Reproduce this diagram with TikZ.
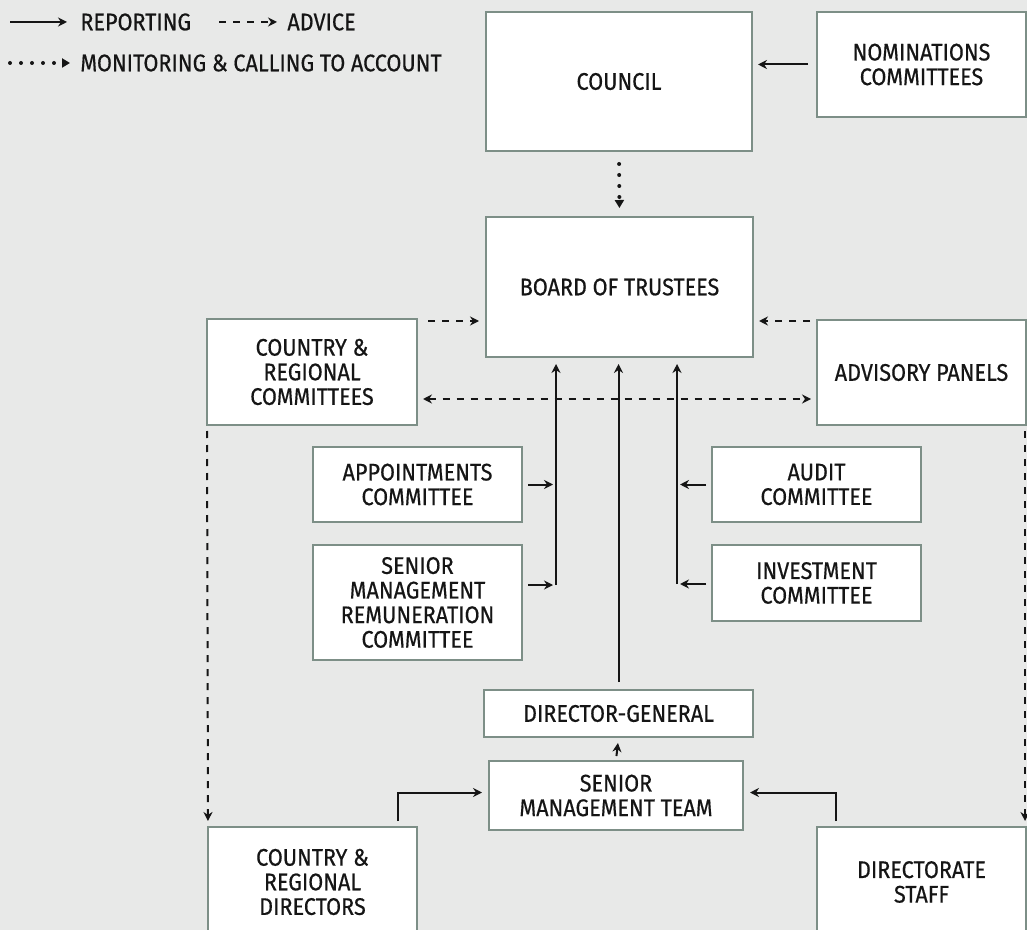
\documentclass[tikz,border=0pt]{standalone}
\usepackage{fontspec}
\setmainfont{Fira Sans}[FakeStretch=0.9, FakeBold=0.5]
\usetikzlibrary{arrows.meta}
\definecolor{bg}{HTML}{E8E9E8}
\definecolor{boxline}{HTML}{7D8F87}
\definecolor{ink}{HTML}{151515}

\begin{document}
\begin{tikzpicture}[
        x=0.5pt, y=-0.5pt,
        box/.style={draw=boxline, fill=white, line width=1pt, align=center, inner sep=0pt, text=ink,
            font=\fontsize{12}{12.3}\selectfont},
        legend/.style={anchor=west, inner sep=0pt, text=ink, font=\fontsize{12}{12.3}\selectfont},
        report/.style={-{Stealth[length=4.5pt,width=4.5pt]}, line width=1pt, ink},
        advice/.style={report, dash pattern=on 3.5pt off 3.5pt},
        twoway/.style={advice, {Stealth[length=4.5pt,width=4.5pt]}-{Stealth[length=4.5pt,width=4.5pt]}},
        monitor/.style={-{Triangle[length=4pt,width=4.5pt]}, line width=2pt, line cap=round, ink,
            dash pattern=on 0pt off 5.5pt}
    ]
        \fill[bg] (0,0) rectangle (1027,930);
        \useasboundingbox (0,0) rectangle (1027,930);

        % Legend
        \node[legend] (lreport) at (80,22) {REPORTING};
        \node[legend] (ladvice) at (287,22) {ADVICE};
        \node[legend] (lmonitor) at (80,63) {MONITORING \& CALLING TO ACCOUNT};
        \draw[report] ([xshift=-35pt]lreport.west) -- ([xshift=-6.5pt]lreport.west);
        \draw[advice] ([xshift=-34pt]ladvice.west) -- ([xshift=-5pt]ladvice.west);
        \draw[monitor] ([xshift=-35pt]lmonitor.west) -- ([xshift=-5pt]lmonitor.west);

        % Top
        \node[box, minimum width=133pt, minimum height=69.5pt] (council) at (619,81.5) {COUNCIL};
        \node[box, minimum width=104.5pt, minimum height=52.5pt] (nominations) at (921.5,64.5) {NOMINATIONS\\COMMITTEES};
        \node[box, minimum width=133.5pt, minimum height=70pt] (board) at (619.5,287) {BOARD OF TRUSTEES};

        % Side committees and panels
        \node[box, minimum width=105pt, minimum height=53pt] (regcom) at (312,372) {COUNTRY \&\\REGIONAL\\COMMITTEES};
        \node[box, minimum width=104.5pt, minimum height=52.5pt] (panels) at (921.5,372.5) {ADVISORY PANELS};

        % Board committees
        \node[box, minimum width=104.5pt, minimum height=37.5pt] (appoint) at (417.5,484.5) {APPOINTMENTS\\COMMITTEE};
        \node[box, minimum width=104.5pt, minimum height=57.5pt] (remun) at (417.5,602.5) {SENIOR\\MANAGEMENT\\REMUNERATION\\COMMITTEE};
        \node[box, minimum width=104.5pt, minimum height=37.5pt] (audit) at (816.5,484.5) {AUDIT\\COMMITTEE};
        \node[box, minimum width=104.5pt, minimum height=38pt] (invest) at (816.5,583) {INVESTMENT\\COMMITTEE};

        % Executive
        \node[box, minimum width=134.5pt, minimum height=23.5pt] (dg) at (618.5,713.5) {DIRECTOR-GENERAL};
        \node[box, minimum width=127pt, minimum height=34.5pt] (smt) at (616,795.5) {SENIOR\\MANAGEMENT TEAM};
        \node[box, minimum width=104.5pt, minimum height=55pt] (regdir) at (312.5,882) {COUNTRY \&\\REGIONAL\\DIRECTORS};
        \node[box, minimum width=104.5pt, minimum height=55pt] (staff) at (921.5,882) {DIRECTORATE\\STAFF};

        \coordinate (ljoin) at (556,585);
        \coordinate (rjoin) at (677,584);

        % Monitoring
        \draw[monitor, shorten <=6pt, shorten >=4pt] (council.south) -- (board.north);

        % Advice
        \draw[advice, shorten <=5pt, shorten >=3pt] ([yshift=-1.5pt]regcom.north east) -- ([yshift=-1.5pt]regcom.north east -| board.west);
        \draw[advice, shorten <=3pt, shorten >=2.5pt] ([yshift=-1pt]panels.north west) -- ([yshift=-1pt]panels.north west -| board.east);
        \draw[twoway, shorten <=2.5pt, shorten >=2.5pt] ([yshift=-13.5pt]regcom.east) -- ([yshift=-13.5pt]regcom.east -| panels.west);
        \draw[advice, shorten <=2.5pt, shorten >=2.5pt] ([xshift=0.5pt]regcom.south west) -- ([xshift=0.5pt]regdir.north west);
        \draw[advice, shorten <=2.5pt, shorten >=2.5pt] ([xshift=-1pt]panels.south east) -- ([xshift=-1pt]staff.north east);

        % Reporting
        \draw[report, shorten <=4pt, shorten >=2.5pt] (nominations.west) -- (nominations.west -| council.east);
        \draw[report, shorten <=2.5pt, shorten >=1.5pt] (appoint.east) -- (appoint.east -| ljoin);
        \draw[report, shorten <=2.5pt, shorten >=1.5pt] (remun.east |- ljoin) -- (ljoin);
        \draw[report, shorten >=3pt] (ljoin) -- (ljoin |- board.south);
        \draw[report, shorten <=2.5pt, shorten >=1.5pt] (audit.west) -- (audit.west -| rjoin);
        \draw[report, shorten <=2.5pt, shorten >=1.5pt] (invest.west |- rjoin) -- (rjoin);
        \draw[line width=1pt, ink] (rjoin) -- (rjoin |- audit.west);
        \draw[report, shorten >=3pt] (audit.west -| rjoin) -- (rjoin |- board.south);
        \draw[report, shorten <=3.5pt, shorten >=3pt] (dg.north) -- (dg.north |- board.south);
        \draw[report, shorten <=2pt, shorten >=2.5pt] (smt.north) -- (dg.south);
        \draw[report, shorten <=2.5pt, shorten >=3pt] ([xshift=-10pt]regdir.north east) |- ([yshift=1.5pt]smt.west);
        \draw[report, shorten <=2.5pt, shorten >=3pt] ([xshift=10pt]staff.north west) |- ([yshift=1.5pt]smt.east);
    \end{tikzpicture}
\end{document}
